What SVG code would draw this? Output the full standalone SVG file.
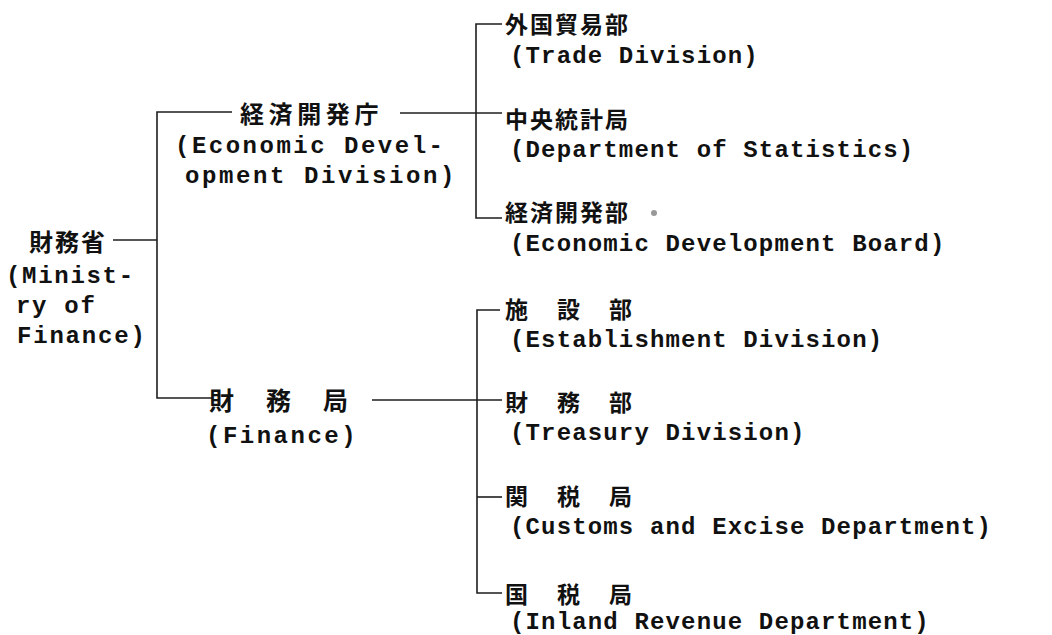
<svg xmlns="http://www.w3.org/2000/svg" width="1052" height="635" viewBox="0 0 1052 635">
<style>
.bg{fill:#ffffff}
.ln{fill:none;stroke:#1e1e1e;stroke-width:1.6}
.jp{font-family:"Noto Sans CJK JP","Noto Sans CJK SC",sans-serif;font-size:23px;font-weight:bold;fill:#111}
.en{font-family:"Liberation Mono","DejaVu Sans Mono",monospace;font-size:24px;font-weight:bold;fill:#111;letter-spacing:1.15px}
</style>
<rect class="bg" x="0" y="0" width="1052" height="635"/>
<g id="connectors">
<path class="ln" d="M113,240 H157"/>
<path class="ln" d="M232,112 H157 V398 H212"/>
<path class="ln" d="M400,113 H502"/>
<path class="ln" d="M502,24 H476 V218 H502"/>
<path class="ln" d="M372,400 H502"/>
<path class="ln" d="M500,310 H477 V593 H502"/>
<path class="ln" d="M477,497 H502"/>
</g>
<g id="ministry">
<text class="jp" x="29" y="251" style="font-size:24px;letter-spacing:2px">財務省</text>
<text class="en" x="6" y="283" style="letter-spacing:1.7px">(Minist-</text>
<text class="en" x="16" y="313" style="letter-spacing:1.7px">ry of</text>
<text class="en" x="17" y="343" style="letter-spacing:1.8px">Finance)</text>
</g>
<g id="econ-dev-agency">
<text class="jp" x="240" y="123" style="font-size:24px;letter-spacing:4.6px">経済開発庁</text>
<text class="en" x="175" y="153" style="letter-spacing:2.5px">(Economic Devel-</text>
<text class="en" x="185" y="183" style="letter-spacing:2.6px">opment Division)</text>
</g>
<g id="finance-bureau">
<text class="jp" x="209" y="410" style="font-size:25px;letter-spacing:32px">財務局</text>
<text class="en" x="206" y="443" style="letter-spacing:2.5px">(Finance)</text>
</g>
<g id="trade">
<text class="jp" x="505" y="33" style="letter-spacing:2px">外国貿易部</text>
<text class="en" x="510" y="63">(Trade Division)</text>
</g>
<g id="statistics">
<text class="jp" x="505" y="128" style="letter-spacing:2px">中央統計局</text>
<text class="en" x="510" y="157">(Department of Statistics)</text>
</g>
<g id="econ-dev-board">
<text class="jp" x="505" y="221" style="letter-spacing:2px">経済開発部</text>
<circle cx="654" cy="213" r="3" fill="#999"/>
<text class="en" x="510" y="251">(Economic Development Board)</text>
</g>
<g id="establishment">
<text class="jp" x="505" y="318" style="letter-spacing:29px">施設部</text>
<text class="en" x="510" y="347">(Establishment Division)</text>
</g>
<g id="treasury">
<text class="jp" x="505" y="411" style="letter-spacing:29px">財務部</text>
<text class="en" x="510" y="440">(Treasury Division)</text>
</g>
<g id="customs">
<text class="jp" x="505" y="505" style="letter-spacing:29px">関税局</text>
<text class="en" x="510" y="534">(Customs and Excise Department)</text>
</g>
<g id="inland-revenue">
<text class="jp" x="505" y="603" style="letter-spacing:29px">国税局</text>
<text class="en" x="510" y="629">(Inland Revenue Department)</text>
</g>
</svg>
